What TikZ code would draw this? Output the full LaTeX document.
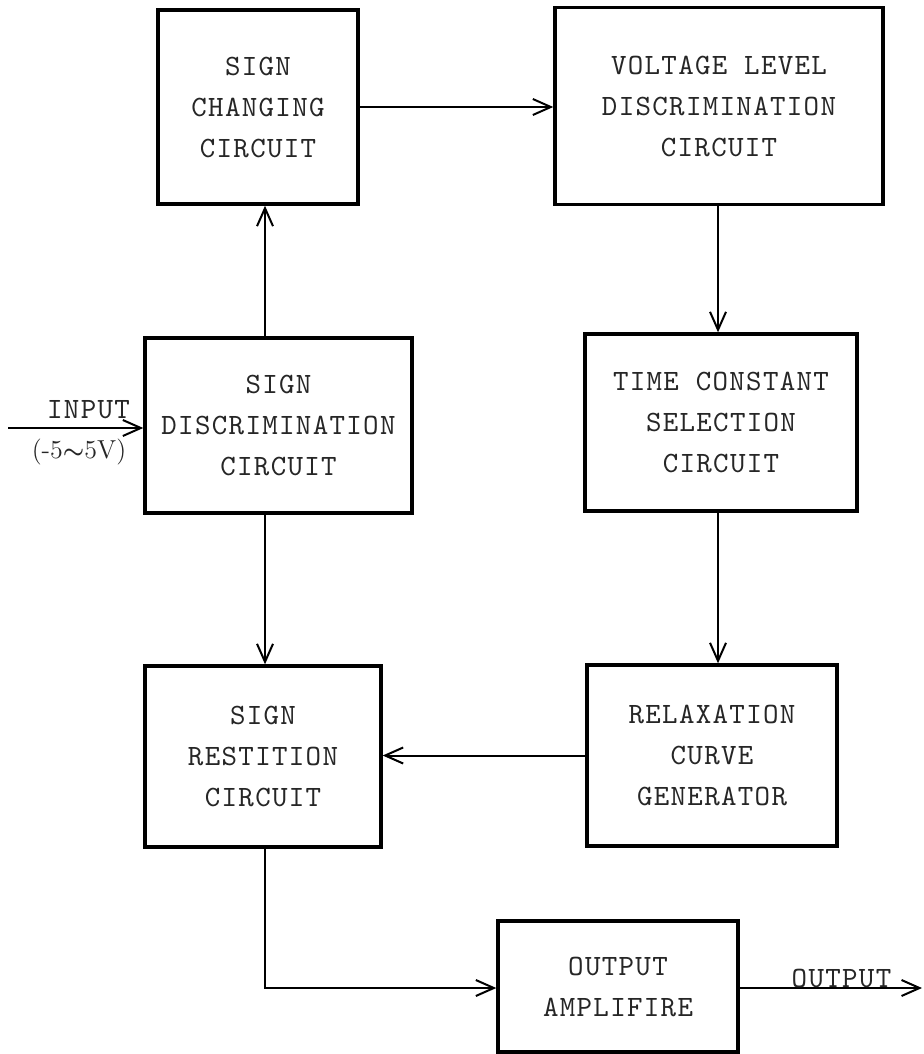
\documentclass[tikz,border=0pt]{standalone}
\usepackage{fontspec}
\usepackage{amsmath,amssymb}
\usepackage{tikz}
\usetikzlibrary{positioning,arrows.meta,calc}
\newfontfamily\typewr{lmmono10-regular.otf}[LetterSpace=4.5]
\newcommand{\blkfont}{\typewr\fontsize{14.75}{20.5}\selectfont}
% #1 name, #2/#3 centre, #4/#5 size (px), #6 text
\newcommand{\blkbox}[6]{%
  \node[blk,minimum width=#4*0.5pt,minimum height=#5*0.5pt] (#1) at (#2,#3) {#6};
}

\begin{document}
\begin{tikzpicture}[x=0.5pt,y=-0.5pt,
  blk/.style={draw,line width=1.7pt,align=center,inner sep=0pt,font=\blkfont,text=black!85},
  conn/.style={line width=1pt,-{Straight Barb[length=9pt,width=8pt]}},
  lbl/.style={font=\blkfont,inner sep=0pt,text=black!85}]
  \useasboundingbox (0,0) rectangle (923,1054);
  % blocks
  \blkbox{chg}{258}{107}{200}{194}{SIGN\\CHANGING\\CIRCUIT}
  \blkbox{vld}{719}{106}{328}{197}{VOLTAGE LEVEL\\DISCRIMINATION\\CIRCUIT}
  \blkbox{sdc}{278.5}{425.5}{267}{175}{SIGN\\DISCRIMINATION\\CIRCUIT}
  \blkbox{tcs}{721}{422.5}{272}{177}{TIME CONSTANT\\SELECTION\\CIRCUIT}
  \blkbox{sres}{263}{756.5}{236}{181}{SIGN\\RESTITION\\CIRCUIT}
  \blkbox{rcg}{712}{755.5}{250}{181}{RELAXATION\\CURVE\\GENERATOR}
  \blkbox{oamp}{618}{986.5}{240}{131}{OUTPUT\\AMPLIFIRE}
  % columns of the vertical connectors
  \coordinate (lcol) at (265,0);
  \coordinate (rcol) at (718,0);
  \coordinate (inp) at (8,428);
  \coordinate (outp) at (922,988);
  % connectors
  \draw[conn] (inp) -- (inp -| sdc.west);
  \draw[conn] (sdc.north -| lcol) -- (chg.south -| lcol);
  \draw[conn] (chg.east) -- (chg.east -| vld.west);
  \draw[conn] (vld.south -| rcol) -- (tcs.north -| rcol);
  \draw[conn] (tcs.south -| rcol) -- (rcg.north -| rcol);
  \draw[conn] (rcg.west) -- (rcg.west -| sres.east);
  \draw[conn] (sdc.south -| lcol) -- (sres.north -| lcol);
  \draw[conn] (sres.south -| lcol) |- (outp -| oamp.west);
  \draw[conn] (outp -| oamp.east) -- (outp);
  % labels
  \node[lbl] (inlbl) at (88.5,410) {INPUT};
  \node[lbl,font=\fontsize{13}{15}\selectfont] (rnglbl) at (79,452) {(-5{\boldmath$\sim$}5V)};
  \node[lbl] (outlbl) at (841.5,978) {OUTPUT};
\end{tikzpicture}
\end{document}
